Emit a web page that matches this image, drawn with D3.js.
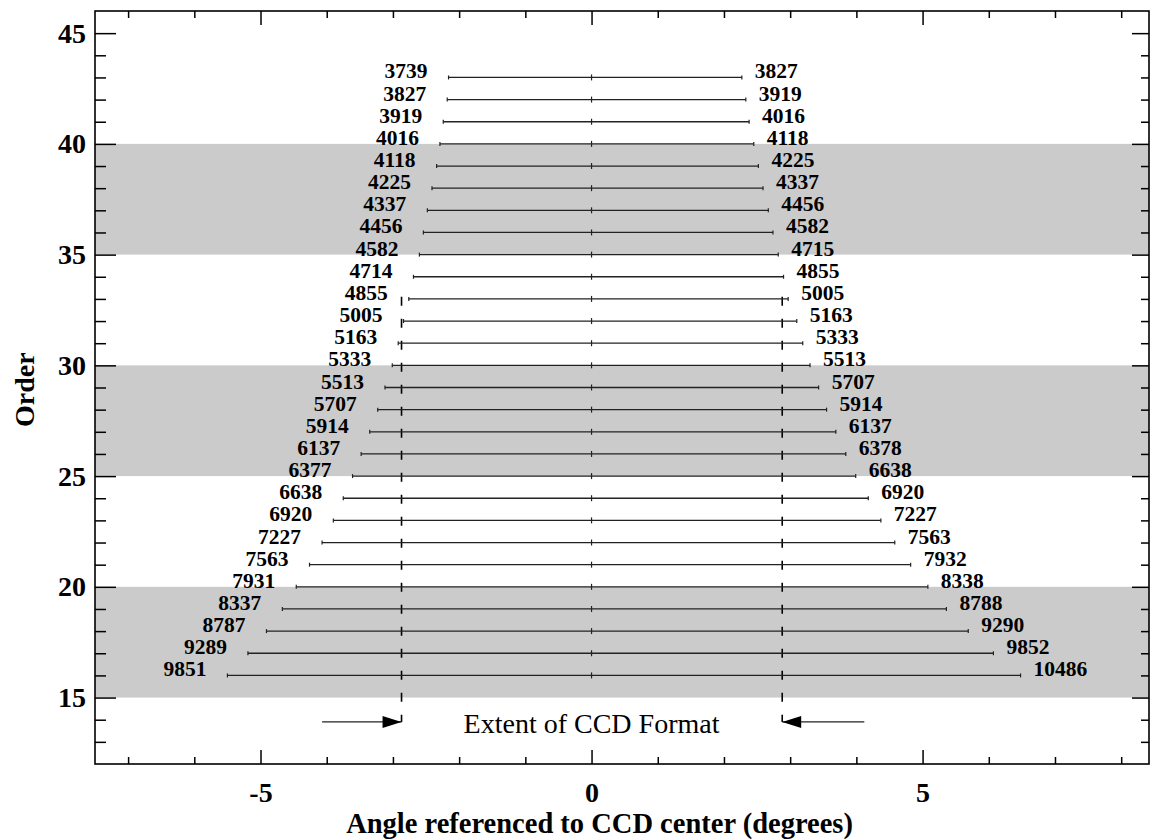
<!DOCTYPE html>
<html>
<head>
<meta charset="utf-8">
<script src="https://cdn.jsdelivr.net/npm/d3@7"></script>
<style>
  body { margin: 0; background: #fff; }
  svg { display: block; }
  text { font-family: "Liberation Serif", "Times New Roman", serif; fill: #000; }
</style>
</head>
<body>
<svg id="chart" width="1151" height="840"></svg>
<script>
// echelle orders, wavelength at each end and angle of each end
var orders = [43, 42, 41, 40, 39, 38, 37, 36, 35, 34, 33, 32, 31, 30,
              29, 28, 27, 26, 25, 24, 23, 22, 21, 20, 19, 18, 17, 16];
var leftWave = [3739, 3827, 3919, 4016, 4118, 4225, 4337, 4456, 4582, 4714, 4855, 5005, 5163, 5333,
                5513, 5707, 5914, 6137, 6377, 6638, 6920, 7227, 7563, 7931, 8337, 8787, 9289, 9851];
var rightWave = [3827, 3919, 4016, 4118, 4225, 4337, 4456, 4582, 4715, 4855, 5005, 5163, 5333, 5513,
                 5707, 5914, 6137, 6378, 6638, 6920, 7227, 7563, 7932, 8338, 8788, 9290, 9852, 10486];
var leftAngle = [-2.16, -2.18, -2.24, -2.29, -2.34, -2.41, -2.48, -2.54, -2.60, -2.69, -2.76, -2.84, -2.92, -3.01,
                 -3.12, -3.23, -3.35, -3.48, -3.61, -3.75, -3.90, -4.07, -4.26, -4.46, -4.67, -4.91, -5.19, -5.50];
var rightAngle = [2.27, 2.33, 2.38, 2.45, 2.52, 2.59, 2.67, 2.74, 2.82, 2.90, 2.97, 3.10, 3.19, 3.30,
                  3.43, 3.55, 3.69, 3.84, 3.99, 4.18, 4.37, 4.58, 4.82, 5.08, 5.36, 5.69, 6.07, 6.48];

// shaded order bands
var bands = [[15, 20], [25, 30], [35, 40]];

// CCD extent markers
var ccdEdges = [-2.87, 2.88];
var arrowTails = [-4.07, 4.12];
var ccdTopOrder = 33.1;
var arrowOrder = 13.9;
var ccdText = "Extent of CCD Format";

var xMajor = [-5, 0, 5];
var yMajor = [15, 20, 25, 30, 35, 40, 45];

var svg = d3.select("#chart"),
    margin = {top: 11, left: 95, bottom: 76, right: 2},
    width = +svg.attr("width"),
    height = +svg.attr("height");

var x = d3.scaleLinear().domain([-7.5, 8.42]).range([margin.left, width - margin.right]);
var y = d3.scaleLinear().domain([12, 46]).range([height - margin.bottom, margin.top]);

var rows = orders.map(function(o, i) {
    return {order: o, lw: leftWave[i], rw: rightWave[i], la: leftAngle[i], ra: rightAngle[i]};
});

// grey bands
svg.append("g").selectAll("rect")
    .data(bands)
    .enter().append("rect")
    .attr("x", x.range()[0])
    .attr("width", x.range()[1] - x.range()[0])
    .attr("y", d => y(d[1]))
    .attr("height", d => y(d[0]) - y(d[1]))
    .attr("fill", "#cbcbcb");

// minor ticks (every unit) and major ticks, all pointing inward
var xMinor = d3.range(-7, 9).filter(v => xMajor.indexOf(v) < 0);
var yMinor = d3.range(13, 46).filter(v => yMajor.indexOf(v) < 0);

function addAxis(axis, tr) {
    var g = svg.append("g").attr("transform", tr).call(axis);
    g.select(".domain").remove();
    g.selectAll("line").attr("stroke", "#000").attr("stroke-width", 1.5);
    return g;
}

var yB = height - margin.bottom, yT = margin.top, xL = margin.left, xR = width - margin.right;

var gxb = addAxis(d3.axisBottom(x).tickValues(xMajor).tickSize(-14).tickPadding(18).tickFormat(d3.format("d")), `translate(0,${yB})`);
addAxis(d3.axisBottom(x).tickValues(xMinor).tickSize(-7).tickFormat(""), `translate(0,${yB})`);
addAxis(d3.axisTop(x).tickValues(xMajor).tickSize(-14).tickFormat(""), `translate(0,${yT})`);
addAxis(d3.axisTop(x).tickValues(xMinor).tickSize(-7).tickFormat(""), `translate(0,${yT})`);

var gyl = addAxis(d3.axisLeft(y).tickValues(yMajor).tickSize(-21).tickPadding(9).tickFormat(d3.format("d")), `translate(${xL},0)`);
addAxis(d3.axisLeft(y).tickValues(yMinor).tickSize(-11).tickFormat(""), `translate(${xL},0)`);
addAxis(d3.axisRight(y).tickValues(yMajor).tickSize(-17).tickFormat(""), `translate(${xR},0)`);
addAxis(d3.axisRight(y).tickValues(yMinor).tickSize(-8).tickFormat(""), `translate(${xR},0)`);

gxb.selectAll("text")
    .attr("font-family", "Liberation Serif, serif")
    .attr("font-size", 28).attr("font-weight", "bold").attr("fill", "#000")
    .text(d => d < 0 ? "-" + Math.abs(d) : d);
gyl.selectAll("text")
    .attr("font-family", "Liberation Serif, serif")
    .attr("font-size", 28).attr("font-weight", "bold").attr("fill", "#000");

// frame
svg.append("rect")
    .attr("x", xL).attr("y", yT)
    .attr("width", xR - xL).attr("height", yB - yT)
    .attr("fill", "none").attr("stroke", "#000").attr("stroke-width", 1.6);

// CCD extent dashed lines
svg.append("g").selectAll("line")
    .data(ccdEdges)
    .enter().append("line")
    .attr("x1", d => x(d)).attr("x2", d => x(d))
    .attr("y1", y(ccdTopOrder)).attr("y2", y(arrowOrder))
    .attr("stroke", "#000").attr("stroke-width", 1.6)
    .attr("stroke-dasharray", "9,13");

// order lines
var lines = svg.append("g").selectAll("g.order")
    .data(rows)
    .enter().append("g").classed("order", true);

lines.append("line")
    .attr("x1", d => x(d.la)).attr("x2", d => x(d.ra))
    .attr("y1", d => y(d.order)).attr("y2", d => y(d.order))
    .attr("stroke", "#222").attr("stroke-width", 1.3);

// little tick at the centre and at both ends
lines.append("line")
    .attr("x1", x(0)).attr("x2", x(0))
    .attr("y1", d => y(d.order) - 3).attr("y2", d => y(d.order) + 3)
    .attr("stroke", "#222").attr("stroke-width", 1.2);
lines.append("line")
    .attr("x1", d => x(d.la)).attr("x2", d => x(d.la))
    .attr("y1", d => y(d.order) - 2).attr("y2", d => y(d.order) + 2)
    .attr("stroke", "#222").attr("stroke-width", 1.2);
lines.append("line")
    .attr("x1", d => x(d.ra)).attr("x2", d => x(d.ra))
    .attr("y1", d => y(d.order) - 2).attr("y2", d => y(d.order) + 2)
    .attr("stroke", "#222").attr("stroke-width", 1.2);

lines.append("text")
    .attr("x", d => x(d.la) - 21)
    .attr("y", d => y(d.order) + 1)
    .attr("text-anchor", "end")
    .attr("font-size", 21.5).attr("font-weight", "bold")
    .text(d => d.lw);

lines.append("text")
    .attr("x", d => x(d.ra) + 13)
    .attr("y", d => y(d.order) + 1)
    .attr("text-anchor", "start")
    .attr("font-size", 21.5).attr("font-weight", "bold")
    .text(d => d.rw);

// arrows pointing at the CCD edges
var arrows = svg.append("g").selectAll("g")
    .data(ccdEdges.map((e, i) => ({edge: e, tail: arrowTails[i]})))
    .enter().append("g");

arrows.append("line")
    .attr("x1", d => x(d.tail)).attr("x2", d => x(d.edge))
    .attr("y1", y(arrowOrder)).attr("y2", y(arrowOrder))
    .attr("stroke", "#222").attr("stroke-width", 1.2);

arrows.append("path")
    .attr("d", function(d) {
        var tip = x(d.edge), yy = y(arrowOrder);
        var dir = d.tail < d.edge ? -1 : 1;
        var base = tip + dir * 19;
        return `M${tip},${yy}L${base},${yy - 6}L${base},${yy + 6}Z`;
    })
    .attr("fill", "#000");

svg.append("text")
    .attr("x", x(0))
    .attr("y", y(arrowOrder) + 11)
    .attr("text-anchor", "middle")
    .attr("font-size", 28)
    .text(ccdText);

// axis titles
svg.append("text")
    .attr("x", x(0) + 8)
    .attr("y", 833)
    .attr("text-anchor", "middle")
    .attr("font-size", 28.5).attr("font-weight", "bold")
    .text("Angle referenced to CCD center (degrees)");

svg.append("text")
    .attr("transform", `translate(34,${y(28.9)}) rotate(-90)`)
    .attr("text-anchor", "middle")
    .attr("font-size", 28).attr("font-weight", "bold")
    .text("Order");
</script>
</body>
</html>
